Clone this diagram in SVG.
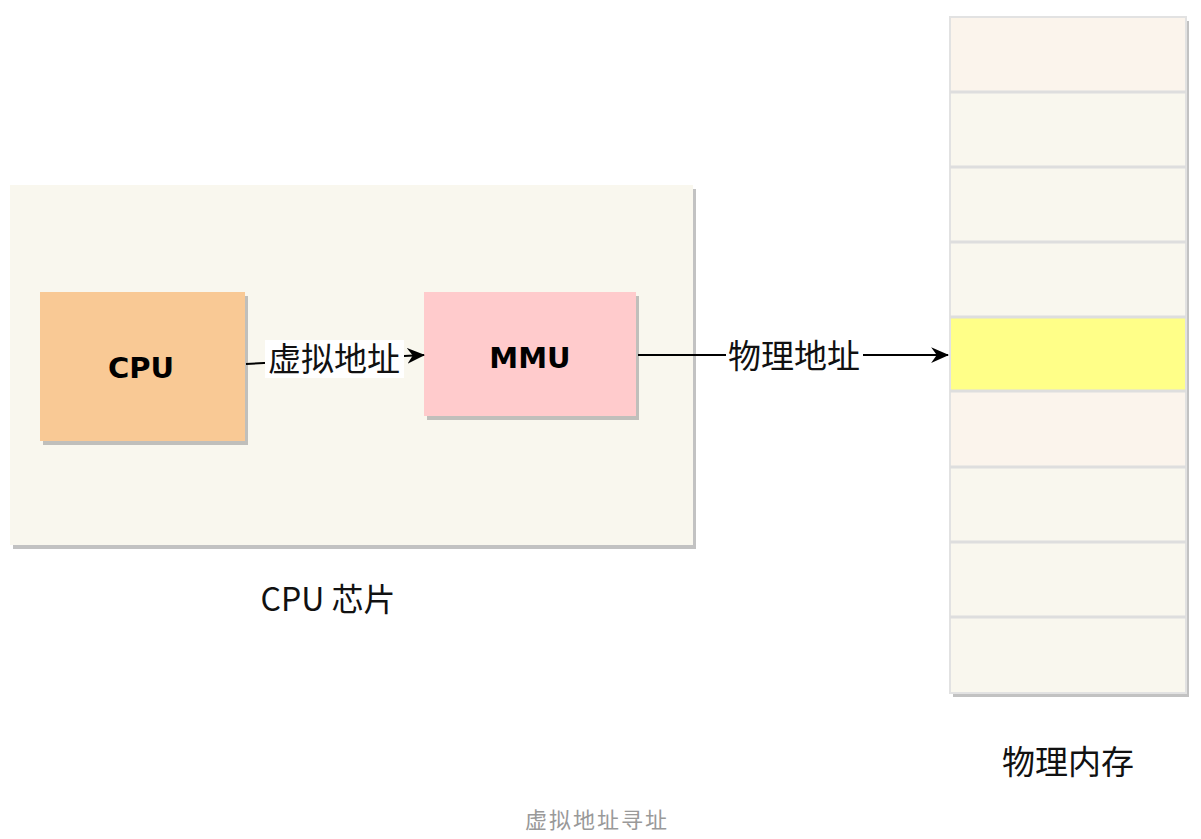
<svg xmlns="http://www.w3.org/2000/svg" width="1201" height="839" viewBox="0 0 1201 839">
<defs>
<marker id="arr" viewBox="0 0 16 14" refX="15" refY="7" markerWidth="18" markerHeight="16" markerUnits="userSpaceOnUse" orient="auto">
<path d="M0,0 L16,7 L0,14 L5,7 Z" fill="#000"/>
</marker>
<filter id="sh" x="-5%" y="-5%" width="115%" height="115%">
<feOffset dx="3" dy="4" in="SourceAlpha" result="o"/>
<feFlood flood-color="#9a9a9a" flood-opacity="0.6"/>
<feComposite in2="o" operator="in" result="s"/>
<feMerge><feMergeNode in="s"/><feMergeNode in="SourceGraphic"/></feMerge>
</filter>
</defs>
<style>
.cjk{font-family:"Noto Sans CJK SC","Liberation Sans",sans-serif;fill:#111;}
.comic{font-family:"Comic Sans MS","DejaVu Sans",sans-serif;font-weight:bold;fill:#000;}
.row{stroke:#dedede;stroke-width:3;}
.edge{stroke:#000;stroke-width:2;fill:none;}
</style>
<rect width="1201" height="839" fill="#fff"/>
<g id="cpu-chip">
<rect x="10" y="185" width="683" height="360" fill="#f9f7ee" filter="url(#sh)"/>
<text class="cjk" x="328" y="611" font-size="32" text-anchor="middle">CPU 芯片</text>
</g>
<g id="cpu">
<rect x="40" y="292" width="205" height="149" fill="#f9c995" filter="url(#sh)"/>
<text class="comic" x="141" y="378" font-size="29" text-anchor="middle">CPU</text>
</g>
<g id="mmu">
<rect x="424" y="292" width="212" height="124" fill="#ffcbcc" filter="url(#sh)"/>
<text class="comic" x="530" y="368" font-size="29" text-anchor="middle">MMU</text>
</g>
<g id="memory">
<rect x="950" y="17" width="236" height="676" fill="#f9f7ee" filter="url(#sh)"/>
<rect x="951" y="18" width="234" height="74" fill="#fbf4ec"/>
<rect x="951" y="318" width="234" height="73" fill="#ffff88"/>
<rect x="951" y="392" width="234" height="75" fill="#fbf4ec"/>
<rect x="950" y="17" width="236" height="676" fill="none" stroke="#e2e2e2" stroke-width="2"/>
<line class="row" x1="950" y1="92" x2="1186" y2="92"/>
<line class="row" x1="950" y1="167" x2="1186" y2="167"/>
<line class="row" x1="950" y1="242" x2="1186" y2="242"/>
<line class="row" x1="950" y1="317" x2="1186" y2="317"/>
<line class="row" x1="950" y1="391" x2="1186" y2="391"/>
<line class="row" x1="950" y1="467" x2="1186" y2="467"/>
<line class="row" x1="950" y1="542" x2="1186" y2="542"/>
<line class="row" x1="950" y1="617" x2="1186" y2="617"/>
<text class="cjk" x="1068" y="774" font-size="33" text-anchor="middle">物理内存</text>
</g>
<g id="connectors">
<path class="edge" d="M246,364 L424,355" marker-end="url(#arr)"/>
<rect x="265" y="340" width="139" height="38" fill="#fff"/>
<text class="cjk" x="334" y="371" font-size="33" text-anchor="middle">虚拟地址</text>
<path class="edge" d="M638,355 L948,355" marker-end="url(#arr)"/>
<rect x="726" y="337" width="137" height="38" fill="#fff"/>
<text class="cjk" x="794" y="368" font-size="33" text-anchor="middle">物理地址</text>
</g>
<text class="cjk" x="597" y="828" font-size="22" text-anchor="middle" style="fill:#999;letter-spacing:2px">虚拟地址寻址</text>
</svg>
